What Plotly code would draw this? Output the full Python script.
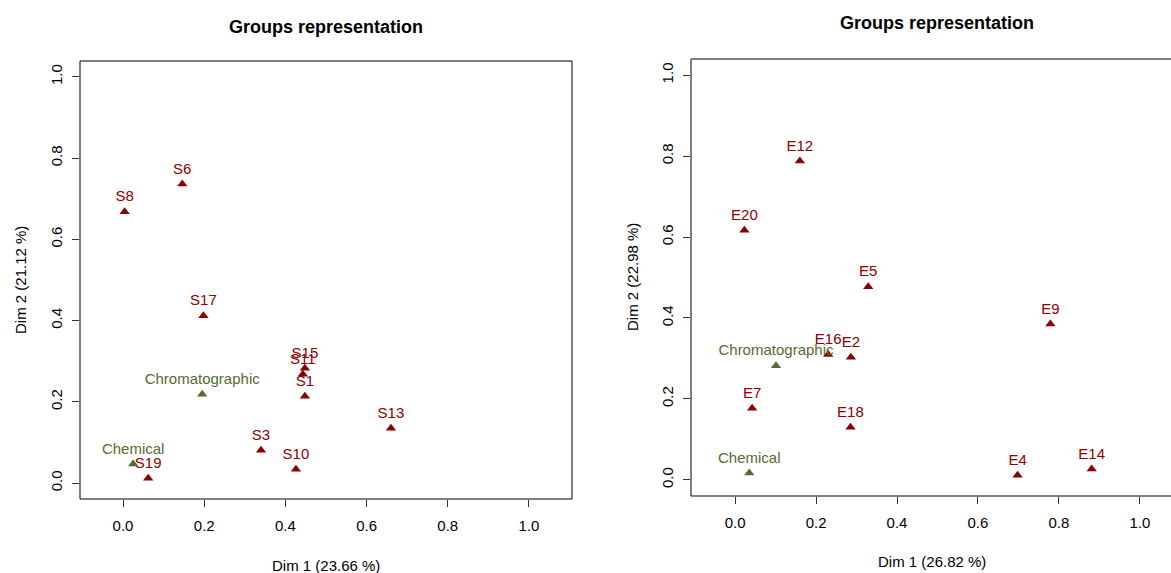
import plotly.graph_objects as go

W, H = 1171, 573

# ---- data: left panel (S) ----
s_labels = ["S8", "S6", "S17", "S15", "S11", "S1", "S13", "S3", "S10", "S19"]
s_x = [0.004, 0.146, 0.198, 0.448, 0.443, 0.448, 0.660, 0.340, 0.426, 0.062]
s_y = [0.668, 0.736, 0.412, 0.283, 0.268, 0.214, 0.135, 0.081, 0.034, 0.012]
s_grp_labels = ["Chromatographic", "Chemical"]
s_grp_x = [0.195, 0.025]
s_grp_y = [0.219, 0.047]

# ---- data: right panel (E) ----
e_labels = ["E12", "E20", "E5", "E9", "E16", "E2", "E7", "E18", "E4", "E14"]
e_x = [0.160, 0.023, 0.329, 0.779, 0.230, 0.286, 0.042, 0.285, 0.698, 0.881]
e_y = [0.788, 0.617, 0.477, 0.385, 0.310, 0.303, 0.177, 0.130, 0.011, 0.027]
e_grp_labels = ["Chromatographic", "Chemical"]
e_grp_x = [0.101, 0.035]
e_grp_y = [0.282, 0.017]

ticks = [0.0, 0.2, 0.4, 0.6, 0.8, 1.0]
tick_text = ["0.0", "0.2", "0.4", "0.6", "0.8", "1.0"]
titles = ["Groups representation", "Groups representation"]
xtitles = ["Dim 1 (23.66 %)", "Dim 1 (26.82 %)"]
ytitles = ["Dim 2 (21.12 %)", "Dim 2 (22.98 %)"]

RED = "#8B0000"
GREEN = "#556B2F"
FONT = "Liberation Sans, Arial, sans-serif"

# pixel layout of the panels
L = dict(x0=80, x1=572, top=61, bot=499)
R = dict(x0=691, x1=1171, top=59, bot=496)

def px(x):
    return x / W

def py(y):
    return 1 - y / H

fig = go.Figure()

def add_panel(xa, ya, lab, xs, ys, glab, gx, gy):
    fig.add_trace(go.Scatter(
        x=xs, y=ys, text=lab, mode="markers+text", textposition="top center",
        marker=dict(symbol="triangle-up", size=9, color=RED),
        textfont=dict(family=FONT, size=15, color=RED),
        xaxis=xa, yaxis=ya, showlegend=False, hoverinfo="skip", cliponaxis=False))
    fig.add_trace(go.Scatter(
        x=gx, y=gy, text=glab, mode="markers+text", textposition="top center",
        marker=dict(symbol="triangle-up", size=9, color=GREEN),
        textfont=dict(family=FONT, size=15, color=GREEN),
        xaxis=xa, yaxis=ya, showlegend=False, hoverinfo="skip", cliponaxis=False))

add_panel("x", "y", s_labels, s_x, s_y, s_grp_labels, s_grp_x, s_grp_y)
add_panel("x2", "y2", e_labels, e_x, e_y, e_grp_labels, e_grp_x, e_grp_y)

axis_common = dict(
    tickmode="array", tickvals=ticks, ticktext=tick_text,
    ticks="outside", ticklen=7, tickcolor="#333333", tickwidth=1,
    showgrid=False, zeroline=False, showline=False,
    tickfont=dict(family=FONT, size=15, color="#000000"),
)

fig.update_layout(
    width=W, height=H,
    margin=dict(l=0, r=0, t=0, b=0),
    paper_bgcolor="white", plot_bgcolor="white",
    xaxis=dict(domain=[px(L["x0"]), px(L["x1"])], range=[-0.106, 1.106],
               anchor="y", ticklabelstandoff=6, **axis_common),
    yaxis=dict(domain=[py(L["bot"]), py(L["top"])], range=[-0.039, 1.039],
               anchor="x", tickangle=-90, ticklabelstandoff=4, **axis_common),
    xaxis2=dict(domain=[px(R["x0"]), px(R["x1"])], range=[-0.109, 1.077],
                anchor="y2", ticklabelstandoff=6, **axis_common),
    yaxis2=dict(domain=[py(R["bot"]), py(R["top"])], range=[-0.04, 1.04],
                anchor="x2", tickangle=-90, ticklabelstandoff=4, **axis_common),
)

# boxes around panels (right one extends past the page edge)
fig.add_shape(type="rect", xref="x domain", yref="y domain", x0=0, x1=1, y0=0, y1=1,
              line=dict(color="black", width=1))
fig.add_shape(type="rect", xref="x2 domain", yref="y2 domain", x0=0, x1=1.1, y0=0, y1=1,
              line=dict(color="black", width=1))

ann = []
ann.append(dict(text="<b>" + titles[0] + "</b>", x=px(326), y=py(27), xref="paper", yref="paper",
                showarrow=False, font=dict(family=FONT, size=18, color="black"),
                xanchor="center", yanchor="middle"))
ann.append(dict(text="<b>" + titles[1] + "</b>", x=px(937), y=py(23), xref="paper", yref="paper",
                showarrow=False, font=dict(family=FONT, size=18, color="black"),
                xanchor="center", yanchor="middle"))
ann.append(dict(text=xtitles[0], x=px(326), y=py(565), xref="paper", yref="paper",
                showarrow=False, font=dict(family=FONT, size=15, color="black"),
                xanchor="center", yanchor="middle"))
ann.append(dict(text=xtitles[1], x=px(932), y=py(561), xref="paper", yref="paper",
                showarrow=False, font=dict(family=FONT, size=15, color="black"),
                xanchor="center", yanchor="middle"))
ann.append(dict(text=ytitles[0], x=px(20), y=py(280), xref="paper", yref="paper",
                showarrow=False, font=dict(family=FONT, size=15, color="black"),
                textangle=-90, xanchor="center", yanchor="middle"))
ann.append(dict(text=ytitles[1], x=px(632), y=py(277), xref="paper", yref="paper",
                showarrow=False, font=dict(family=FONT, size=15, color="black"),
                textangle=-90, xanchor="center", yanchor="middle"))
fig.update_layout(annotations=ann)

fig.write_html("out.html")
